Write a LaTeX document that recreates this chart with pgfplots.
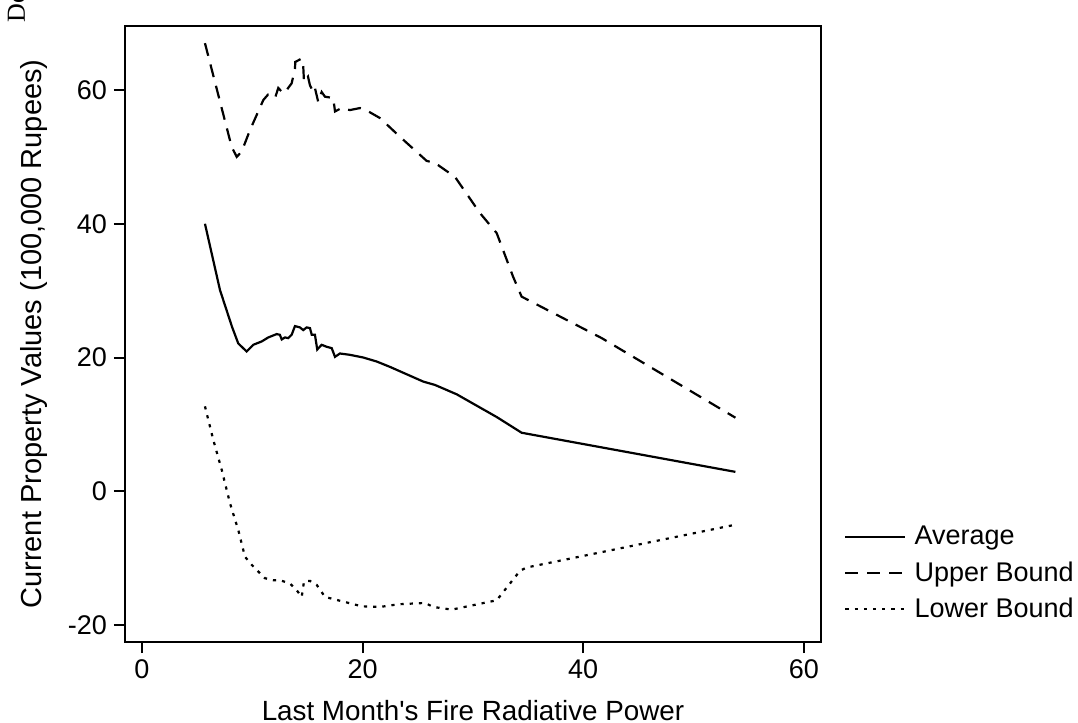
\documentclass[border=0pt]{standalone}
\usepackage{fontspec}
\setmainfont{Liberation Sans}
\newfontfamily\serifcut{Liberation Serif}
\usepackage{pgfplots}
\pgfplotsset{compat=1.18}
\begin{document}
\begin{tikzpicture}
\useasboundingbox (-62.5pt,-40.5pt) rectangle (476.5pt,321pt);
\begin{axis}[
  at={(0pt,0pt)}, anchor=south west,
  scale only axis,
  width=348pt, height=308pt,
  xmin=-1.54, xmax=61.56,
  ymin=-22.54, ymax=69.57,
  xtick={0,20,40,60},
  ytick={-20,0,20,40,60},
  xtick pos=bottom, ytick pos=left,
  tick align=outside,
  major tick length=5.5pt,
  axis line style={line width=1pt, black},
  every tick/.style={line width=1pt, black},
  /pgf/number format/assume math mode=true,
  ticklabel style={font=\fontsize{13.5}{16}\selectfont},
  xlabel={Last Month\textquotesingle s Fire Radiative Power},
  ylabel={Current Property Values (100,000 Rupees)},
  xlabel style={font=\fontsize{13.9}{16}\selectfont,
    at={(axis description cs:0.5,0)}, anchor=base, yshift=-39pt},
  ylabel style={font=\fontsize{14.5}{16}\selectfont,
    at={(axis description cs:0,0.5)}, anchor=center, yshift=45.5pt},
  legend style={at={(1,0)}, anchor=south west, xshift=8.5pt, yshift=6.5pt,
    draw=none, fill=none, font=\fontsize{13.5}{16}\selectfont,
    row sep=3pt, column sep=2pt},
  legend cell align=left,
  legend image code/.code={\draw[#1] (0pt,0pt) -- (30pt,0pt);},
]
  % Average
  \addplot[black, line width=1.1pt] coordinates {
    (5.71,40.0) (7.07,30.1) (8.16,24.6) (8.73,22.1) (9.49,20.9) (10.09,21.9)
    (10.85,22.4) (11.45,23.0) (12.21,23.5) (12.5,23.4) (12.67,22.7) (12.96,23.0)
    (13.26,22.9) (13.57,23.4) (13.87,24.7) (14.32,24.5) (14.62,24.1) (14.93,24.5)
    (15.23,24.4) (15.39,23.4) (15.68,23.4) (15.89,21.2) (16.29,21.9) (16.75,21.6)
    (17.2,21.4) (17.5,20.1) (17.95,20.6) (18.86,20.4) (19.46,20.2) (20.06,20.0)
    (21.28,19.4) (22.48,18.6) (25.5,16.4) (26.56,15.9) (28.53,14.5) (32.16,11.1)
    (34.42,8.75) (53.8,2.9)
  };
  \addlegendentry{Average}
  % Upper bound
  \addplot[black, line width=1.1pt, dash pattern=on 6.5pt off 4.5pt] coordinates {
    (5.71,67.0) (8.13,51.5) (8.59,50.0) (9.04,50.8) (9.79,54.0) (11.0,58.5)
    (11.42,59.3) (12.06,58.8) (12.36,60.3) (12.81,59.5) (13.12,60.0) (13.57,61.0)
    (13.87,63.2) (13.9,64.2) (14.48,64.7) (14.62,63.5) (14.69,61.2) (15.05,62.0)
    (15.23,60.7) (15.53,59.7) (15.68,60.3) (15.98,58.2) (16.29,59.7) (16.59,59.0)
    (17.34,58.8) (17.5,56.8) (18.1,57.3) (18.86,57.0) (19.76,57.3) (20.52,56.8)
    (21.58,55.8) (23.39,53.0) (25.81,49.4) (26.56,49.1) (28.38,47.0) (30.64,41.6)
    (32.16,38.6) (33.64,32.1) (34.42,29.1) (41.68,22.9) (53.8,11.0)
  };
  \addlegendentry{Upper Bound}
  % Lower bound
  \addplot[black, line width=1.1pt, dash pattern=on 1.6pt off 3pt] coordinates {
    (5.71,12.7) (6.46,7.7) (7.23,3.2) (7.98,-1.8) (8.73,-5.8) (9.34,-9.8)
    (9.95,-11.0) (10.54,-12.0) (11.15,-13.0) (11.9,-13.3) (12.51,-13.3) (13.42,-13.8)
    (14.03,-14.8) (14.48,-15.8) (14.69,-13.5) (15.23,-13.4) (15.84,-14.0) (16.59,-15.8)
    (18.25,-16.5) (19.92,-17.2) (21.58,-17.3) (23.24,-16.9) (25.66,-16.7) (26.41,-17.3)
    (28.08,-17.7) (32.16,-16.3) (34.27,-11.9) (34.88,-11.4) (53.8,-5.0)
  };
  \addlegendentry{Lower Bound}
\end{axis}
\node[rotate=90, anchor=base west, inner sep=0pt,
  font=\serifcut\fontsize{13}{15}\selectfont] at (-50pt,309.5pt) {Do};
\end{tikzpicture}
\end{document}
